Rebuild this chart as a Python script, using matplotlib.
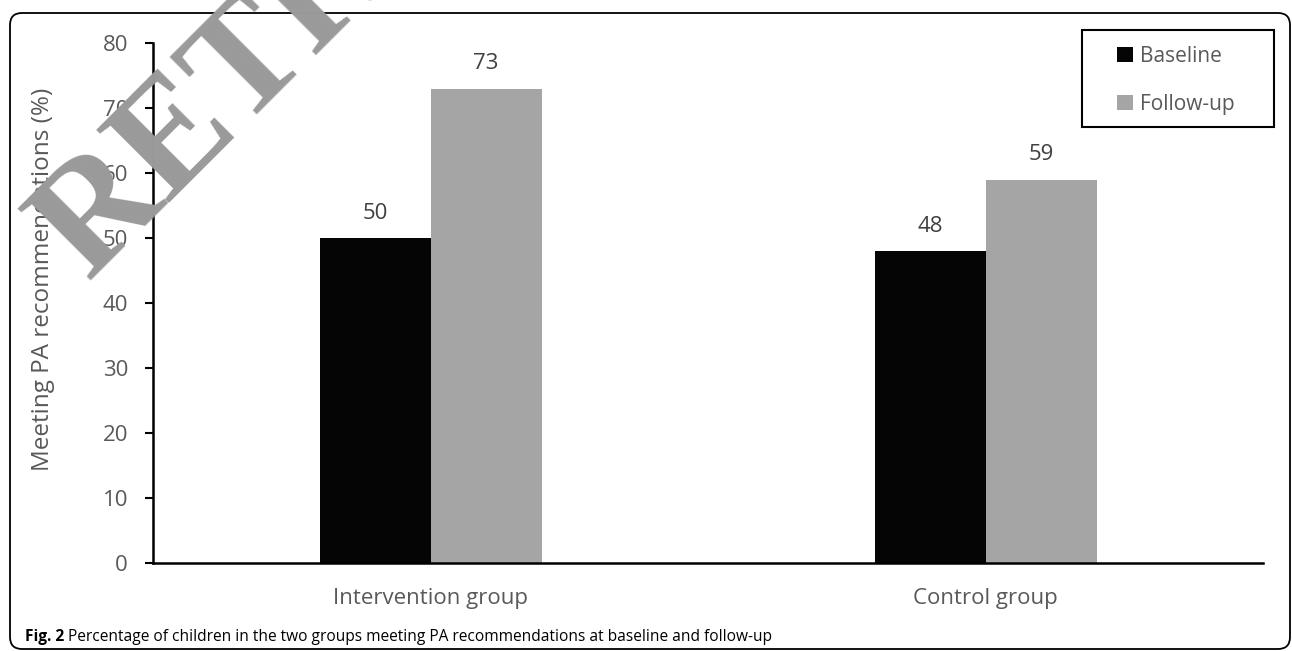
import matplotlib
matplotlib.use("Agg")
import matplotlib.pyplot as plt
import numpy as np
from matplotlib.patches import Patch, FancyBboxPatch, Rectangle

# data
groups = ["Intervention group", "Control group"]
series = ["Baseline", "Follow-up"]
baseline = [50, 48]
follow_up = [73, 59]
yticks = [0, 10, 20, 30, 40, 50, 60, 70, 80]
ylabel = "Meeting PA recommendations (%)"
caption_bold = "Fig. 2"
caption_rest = " Percentage of children in the two groups meeting PA recommendations at baseline and follow-up"
watermark = "RETRACTED"

colors = ["#050505", "#a5a5a5"]
W, H = 1292, 651

plt.rcParams["font.family"] = ["Open Sans", "DejaVu Sans"]


def fx(px):
    return px / W


def fy(py):
    return 1 - py / H


fig = plt.figure(figsize=(W / 100, H / 100), dpi=100)
ax = fig.add_axes([fx(153), fy(563), 1110 / W, 520 / H])

x = np.arange(len(groups))
bw = 0.2
for vals, off, c in zip([baseline, follow_up], [-bw / 2, bw / 2], colors):
    bars = ax.bar(x + off, vals, width=bw, color=c, edgecolor="none", zorder=2)
    for b, v in zip(bars, vals):
        ax.annotate(str(v), (b.get_x() + b.get_width() / 2, v),
                    xytext=(0, 14), textcoords="offset points",
                    ha="center", va="baseline", fontsize=16, color="#404040")

ax.set_xlim(-0.5, len(groups) - 0.5)
ax.set_ylim(0, 80)
ax.set_yticks(yticks)
ax.set_xticks(x)
ax.set_xticklabels(groups)
ax.tick_params(axis="y", length=6, width=1.5, pad=12, labelsize=16, labelcolor="#595959")
ax.tick_params(axis="x", length=0, pad=18, labelsize=16, labelcolor="#595959")
for s in ["top", "right"]:
    ax.spines[s].set_visible(False)
ax.spines["left"].set_linewidth(1.8)
ax.spines["bottom"].set_linewidth(1.8)
ax.set_ylabel(ylabel, fontsize=17.5, color="#595959")
ax.yaxis.set_label_coords(-0.0883, 0.546)

# legend: entries without frame, box drawn separately
handles = [Patch(facecolor=c, edgecolor="none") for c in colors]
fig.legend(handles, series, loc="upper left", bbox_to_anchor=(fx(1117), fy(46)),
           borderaxespad=0, borderpad=0, frameon=False, fontsize=15,
           labelcolor="#595959", handlelength=0.75, handleheight=0.75,
           handletextpad=0.35, labelspacing=1.3)
fig.patches.append(Rectangle((1082, H - 127), 192, 97, transform=None,
                             fill=False, edgecolor="black", linewidth=1.5))

# caption
t1 = fig.text(fx(25), fy(641), caption_bold, fontsize=11.2, fontweight="bold",
              va="baseline", ha="left")
fig.canvas.draw()
bb = t1.get_window_extent()
fig.text(bb.x1 / W, fy(641), caption_rest, fontsize=11.2, va="baseline", ha="left")

# rounded frame around the figure
frame = FancyBboxPatch((10, 2), 1280, 636, boxstyle="round,pad=0,rounding_size=12",
                       transform=None, facecolor="none", edgecolor="black",
                       linewidth=1.3)
fig.patches.append(frame)

# watermark
fig.text(fx(88), fy(282), watermark, rotation=45, rotation_mode="anchor",
         ha="left", va="baseline", fontsize=112, family="Liberation Serif",
         fontweight="bold", color="#9a9a9a", zorder=10)

fig.savefig("out.png", dpi=100)
